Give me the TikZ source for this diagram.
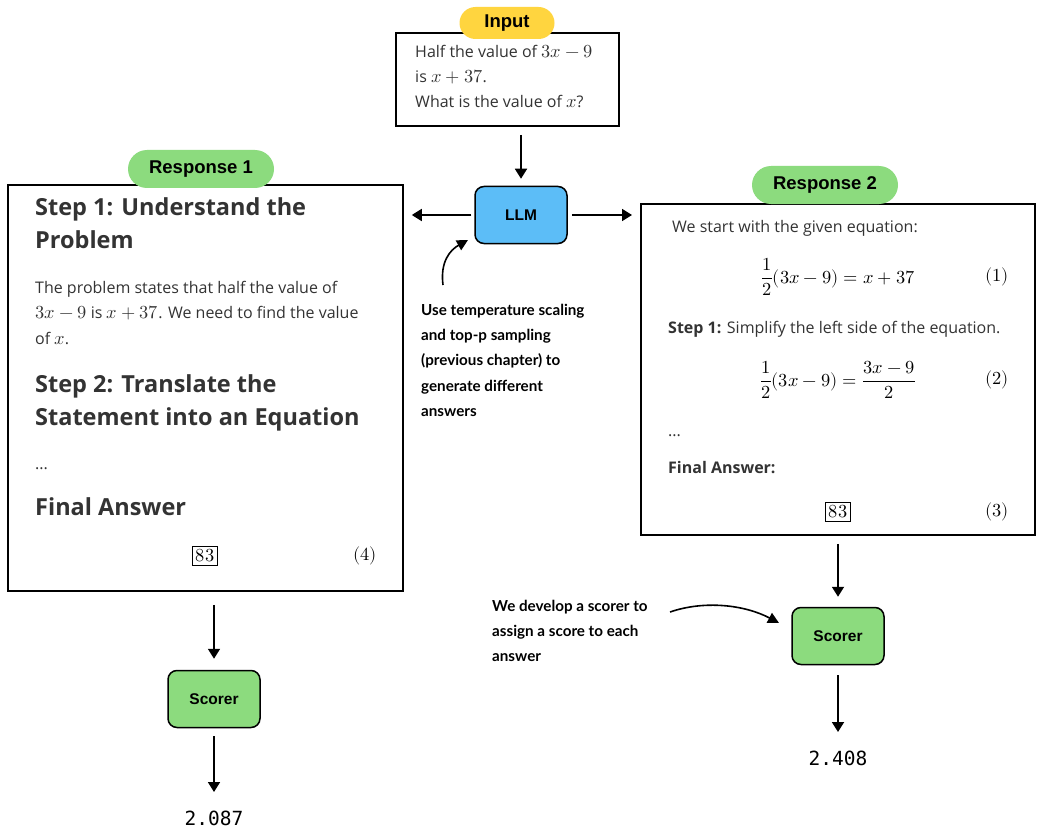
\documentclass[tikz,border=0pt]{standalone}
\usepackage{amsmath}
\usepackage{fontspec}
\usepackage{unicode-math}
\setmainfont{Open Sans}
\setmathfont{Latin Modern Math}[Scale=1.15]
\newfontfamily\labelfont{Liberation Sans}
\newfontfamily\notefont{Lato}
\newfontfamily\valfont{DejaVu Sans Mono}
\usetikzlibrary{arrows.meta}
\definecolor{inyellow}{HTML}{FFD53F}
\definecolor{rgreen}{HTML}{8CDB7E}
\definecolor{lblue}{HTML}{5CBDF7}
\definecolor{textgray}{HTML}{333333}
\begin{document}
\begin{tikzpicture}[x=1pt,y=-1pt,
  box/.style={draw, line width=1.8pt, fill=white, inner sep=0pt},
  pill/.style={fill=#1, rounded corners=16pt, inner sep=0pt, font=\labelfont\bfseries\fontsize{18.5}{20}\selectfont},
  rbox/.style={draw, fill=#1, line width=1.5pt, rounded corners=9pt, inner sep=0pt, minimum width=92pt, minimum height=57pt, font=\labelfont\bfseries\fontsize{15.5}{16}\selectfont},
  arr/.style={line width=1.8pt, -{Triangle[length=10pt,width=12pt]}},
  carr/.style={line width=1.6pt, -{Triangle[length=11pt,width=11pt]}},
  txt/.style={anchor=base west, inner sep=0pt, text=textgray, font=\fontsize{16}{19}\selectfont},
  head/.style={anchor=base west, inner sep=0pt, text=textgray, font=\bfseries\fontsize{23.5}{26}\selectfont},
  note/.style={anchor=base west, inner sep=0pt, font=\notefont\bfseries\fontsize{15.2}{17}\selectfont},
  eqn/.style={inner sep=0pt, text=black, font=\fontsize{16}{19}\selectfont},
  val/.style={inner sep=0pt, font=\valfont\fontsize{19.5}{21}\selectfont}
]
\useasboundingbox[fill=white] (0,0) rectangle (1042,832);

% ---------- Input ----------
\node[box, minimum width=223pt, minimum height=93pt, anchor=north west] (input) at (395,32) {};
\node[pill=inyellow, minimum width=95pt, minimum height=32pt] (inlab) at (507,23) {Input};
\node[txt] (in1) at (415,58) {Half the value of $3x-9$};
\node[txt] (in2) at (415,83) {is $x+37$.};
\node[txt] (in3) at (415,108) {What is the value of $x$?};

% ---------- LLM ----------
\node[rbox=lblue] (llm) at (521,215) {LLM};

% ---------- Response 1 ----------
\node[box, minimum width=395pt, minimum height=406pt, anchor=north west] (r1) at (7,184) {};
\node[pill=rgreen, minimum width=146pt, minimum height=38pt, rounded corners=19pt] (r1lab) at (201,169) {Response 1};
\node[head] (r1h1) at (35,215) {Step 1: Understand the};
\node[head] (r1h2) at (35,248) {Problem};
\node[txt] (r1b1) at (35,293) {The problem states that half the value of};
\node[txt] (r1b2) at (35,318) {$3x-9$ is $x+37$. We need to find the value};
\node[txt] (r1b3) at (35,344) {of $x$.};
\node[head] (r1h3) at (35,392) {Step 2: Translate the};
\node[head] (r1h4) at (35,425) {Statement into an Equation};
\node[txt] (r1d) at (35,469) {...};
\node[head] (r1h5) at (35,515) {Final Answer};
\node[eqn] (r1ans) at (205,556) {$\boxed{83}$};
\node[eqn] (r1tag) at (365,556) {$(4)$};

% ---------- Response 2 ----------
\node[box, minimum width=394pt, minimum height=331pt, anchor=north west] (r2) at (640,203) {};
\node[pill=rgreen, minimum width=146pt, minimum height=38pt, rounded corners=19pt] (r2lab) at (825,185) {Response 2};
\node[txt] (r2t1) at (672,232) {We start with the given equation:};
\node[eqn] (eq1) at (838,277) {$\displaystyle\frac{1}{2}(3x-9)=x+37$};
\node[eqn] (tag1) at (997,277) {$(1)$};
\node[txt] (r2t2) at (668,333) {\textbf{Step 1:} Simplify the left side of the equation.};
\node[eqn] (eq2) at (838,380) {$\displaystyle\frac{1}{2}(3x-9)=\frac{3x-9}{2}$};
\node[eqn] (tag2) at (997,380) {$(2)$};
\node[txt] (r2d) at (668,436) {...};
\node[txt, font=\bfseries\fontsize{16}{19}\selectfont] (r2fa) at (668,473) {Final Answer:};
\node[eqn] (r2ans) at (838,512) {$\boxed{83}$};
\node[eqn] (tag3) at (997,512) {$(3)$};

% ---------- Scorers ----------
\node[rbox=rgreen] (sc1) at (214,699) {Scorer};
\node[rbox=rgreen] (sc2) at (838,636) {Scorer};
\node[val] (v1) at (214,818) {2.087};
\node[val] (v2) at (838,758) {2.408};

% ---------- Notes ----------
\node[note] (n1a) at (421,315) {Use temperature scaling};
\node[note] (n1b) at (421,340) {and top-p sampling};
\node[note] (n1c) at (421,365) {(previous chapter) to};
\node[note] (n1d) at (421,391) {generate different};
\node[note] (n1e) at (421,416) {answers};
\node[note] (n2a) at (492,611) {We develop a scorer to};
\node[note] (n2b) at (492,636) {assign a score to each};
\node[note] (n2c) at (492,661) {answer};

% ---------- Connectors ----------
\draw[arr, shorten <=8pt, shorten >=7pt] (input.south -| llm.north) -- (llm.north);
\draw[arr, shorten <=3pt, shorten >=8pt] (llm.west) -- (r1.east |- llm.west);
\draw[arr, shorten <=4pt, shorten >=8pt] (llm.east) -- (r2.west |- llm.east);
\draw[arr, shorten <=13pt, shorten >=11pt] (r1.south -| sc1.north) -- (sc1.north);
\draw[arr, shorten <=8pt, shorten >=26pt] (sc1.south) -- (v1.center);
\draw[arr, shorten <=8pt, shorten >=10pt] (r2.south -| sc2.north) -- (sc2.north);
\draw[arr, shorten <=10pt, shorten >=26pt] (sc2.south) -- (v2.center);

\coordinate (c1s) at (443,285);
\coordinate (c1e) at (468,240);
\draw[carr] (c1s) .. controls (440,262) and (450,250) .. (c1e);
\coordinate (c2s) at (670,612);
\coordinate (c2e) at (779,623);
\draw[carr] (c2s) .. controls (705,600) and (745,605) .. (c2e);
\end{tikzpicture}
\end{document}
